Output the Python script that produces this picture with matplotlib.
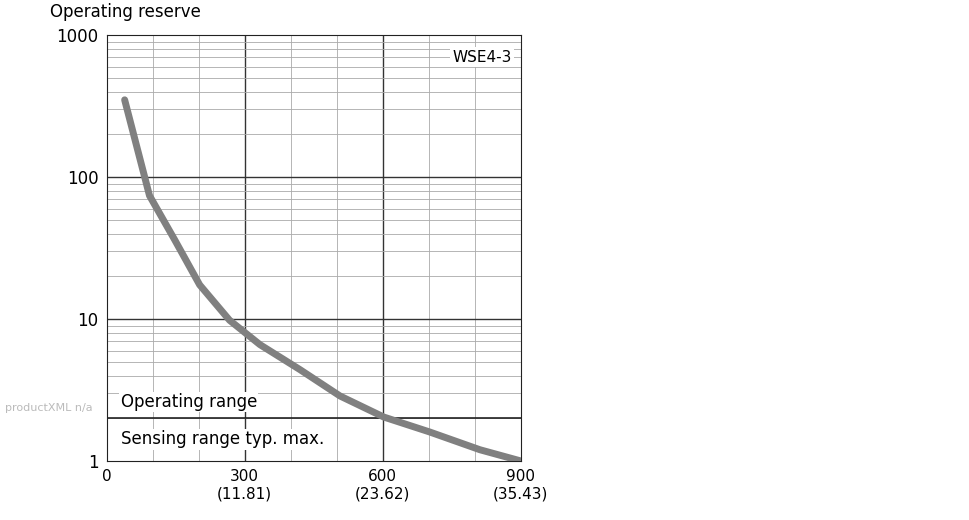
import matplotlib
matplotlib.use("Agg")
import matplotlib.pyplot as plt

dist = [39, 93, 148, 202, 267, 333, 420, 507, 602, 702, 811, 900]
reserve = [350, 74, 36, 17.4, 9.8, 6.6, 4.4, 2.87, 2.04, 1.6, 1.2, 1.0]
x_ticks = [0, 300, 600, 900]
x_labels = ["0", "300\n(11.81)", "600\n(23.62)", "900\n(35.43)"]
y_ticks = [1, 10, 100, 1000]
op_limit = 2.0

fig = plt.figure(figsize=(9.7, 5.2), dpi=100)
ax = fig.add_axes([0.110, 0.1135, 0.427, 0.819])
ax.set_yscale("log")
ax.set_xlim(0, 900)
ax.set_ylim(1, 1000)

for xv in range(100, 900, 100):
    major = xv in (300, 600)
    ax.axvline(xv, color="#333" if major else "#aaa", lw=1.0 if major else 0.6, zorder=1)
for dec in (1, 10, 100):
    for m in range(2, 10):
        ax.axhline(dec * m, color="#aaa", lw=0.6, zorder=1)
for yv in (10, 100):
    ax.axhline(yv, color="#333", lw=1.0, zorder=1)
ax.axhline(op_limit, color="#222", lw=1.2, zorder=2)

ax.plot(dist, reserve, color="#808080", lw=5, solid_capstyle="round", zorder=3)

ax.set_xticks(x_ticks)
ax.set_xticklabels(x_labels, fontsize=11)
ax.set_yticks(y_ticks)
ax.set_yticklabels([str(v) for v in y_ticks], fontsize=12)
ax.yaxis.set_minor_locator(matplotlib.ticker.NullLocator())
ax.tick_params(length=0, pad=6)
for s in ax.spines.values():
    s.set_color("#222")

ax.text(880, 700, "WSE4-3", ha="right", va="center", fontsize=11,
        bbox=dict(fc="white", ec="none", pad=2), zorder=4)
ax.text(30, 2.6, "Operating range", ha="left", va="center", fontsize=12,
        bbox=dict(fc="white", ec="none", pad=1), zorder=4)
ax.text(30, 1.42, "Sensing range typ. max.", ha="left", va="center", fontsize=12,
        bbox=dict(fc="white", ec="none", pad=1), zorder=4)
fig.text(0.052, 0.977, "Operating reserve", ha="left", va="center", fontsize=12)
fig.text(0.005, 0.215, "productXML n/a", ha="left", va="center", fontsize=8, color="#bbb")

fig.savefig("out.png", dpi=100)
